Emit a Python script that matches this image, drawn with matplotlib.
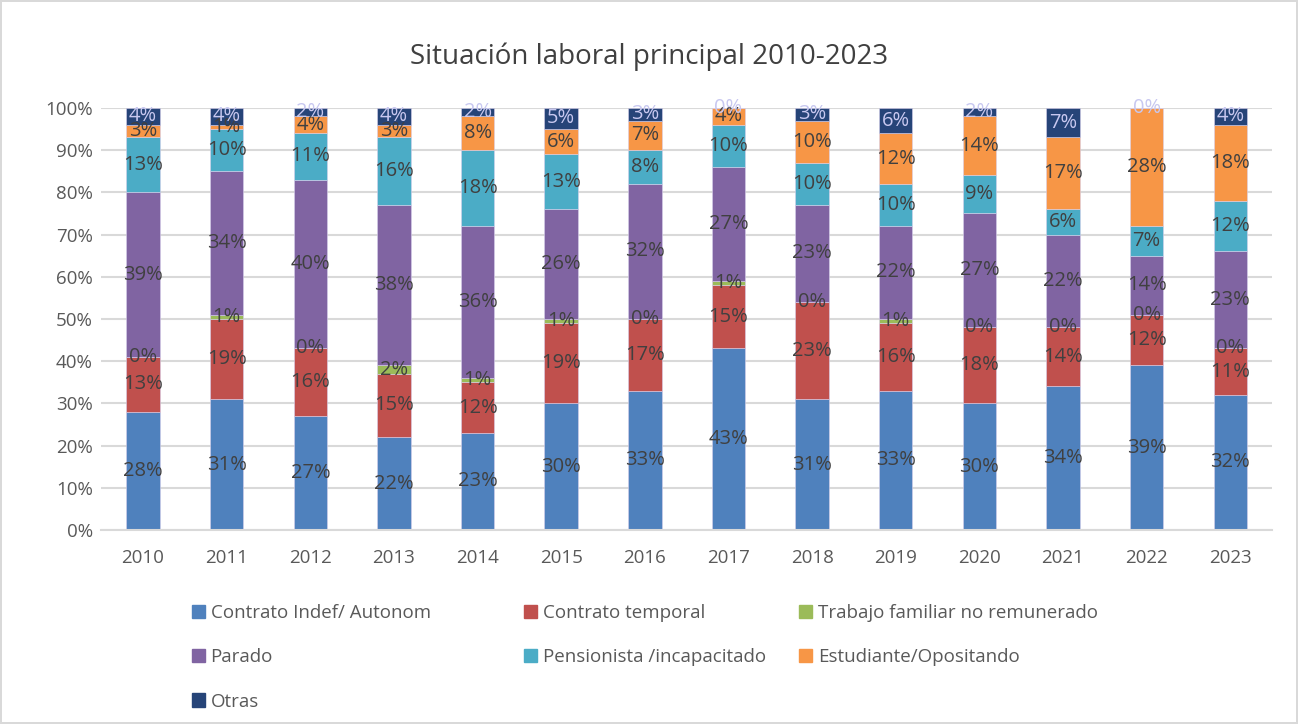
import numpy as np
import matplotlib
matplotlib.use('Agg')
import matplotlib.pyplot as plt
import matplotlib.patches as mpatches

plt.rcParams.update({'font.family': ['Open Sans', 'DejaVu Sans']})

years = ['2010', '2011', '2012', '2013', '2014', '2015', '2016',
         '2017', '2018', '2019', '2020', '2021', '2022', '2023']

series_names = ['Contrato Indef/ Autonom', 'Contrato temporal',
                'Trabajo familiar no remunerado', 'Parado',
                'Pensionista /incapacitado', 'Estudiante/Opositando', 'Otras']

indef      = [28, 31, 27, 22, 23, 30, 33, 43, 31, 33, 30, 34, 39, 32]
temporal   = [13, 19, 16, 15, 12, 19, 17, 15, 23, 16, 18, 14, 12, 11]
familiar   = [0, 1, 0, 2, 1, 1, 0, 1, 0, 1, 0, 0, 0, 0]
parado     = [39, 34, 40, 38, 36, 26, 32, 27, 23, 22, 27, 22, 14, 23]
pension    = [13, 10, 11, 16, 18, 13, 8, 10, 10, 10, 9, 6, 7, 12]
estudiante = [3, 1, 4, 3, 8, 6, 7, 4, 10, 12, 14, 17, 28, 18]
otras      = [4, 4, 2, 4, 2, 5, 3, 0, 3, 6, 2, 7, 0, 4]

data = [indef, temporal, familiar, parado, pension, estudiante, otras]
colors = ['#4f81bd', '#c0504d', '#9bbb59', '#8064a2', '#4bacc6', '#f79646', '#264478']
label_colors = ['#404040'] * 6 + ['#c8c8f0']

fig = plt.figure(figsize=(12.98, 7.24), dpi=100)
fig.patch.set_edgecolor('#d9d9d9')
fig.patch.set_linewidth(1.5)
ax = fig.add_axes([0.078, 0.268, 0.902, 0.583])

x = np.arange(len(years))
bottom = np.zeros(len(years))
for vals, col, lcol in zip(data, colors, label_colors):
    vals = np.array(vals, dtype=float)
    ax.bar(x, vals, bottom=bottom, width=0.4, color=col, edgecolor='#d8d0ec',
           linewidth=0.4, zorder=2)
    for xi, b, v in zip(x, bottom, vals):
        ax.text(xi, b + v / 2, f'{int(v)}%', ha='center', va='center',
                fontsize=14.5, color=lcol, zorder=3)
    bottom += vals

ax.set_xlim(-0.5, len(years) - 0.5)
ax.set_ylim(0, 100)
ax.set_yticks(np.arange(0, 101, 10))
ax.set_yticklabels([f'{v}%' for v in range(0, 101, 10)])
ax.set_xticks(x)
ax.set_xticklabels(years)
ax.tick_params(axis='both', length=0, labelsize=13.5, colors='#595959')
ax.tick_params(axis='x', pad=14)
ax.tick_params(axis='y', pad=6)
ax.yaxis.grid(True, color='#d9d9d9', linewidth=1.5, zorder=0)
ax.set_axisbelow(True)
for s in ['top', 'right', 'left']:
    ax.spines[s].set_visible(False)
ax.spines['bottom'].set_color('#d9d9d9')
ax.spines['bottom'].set_linewidth(1.5)

fig.text(0.5, 0.922, 'Situación laboral principal 2010-2023', ha='center', va='center',
         fontsize=20, color='#404040')

handles = [mpatches.Patch(color=c, label=n) for c, n in zip(colors, series_names)]
columns = [[0, 3, 6], [1, 4], [2, 5]]
col_x = [0.142, 0.398, 0.610]
for idx, cx in zip(columns, col_x):
    fig.legend([handles[i] for i in idx], [series_names[i] for i in idx],
               ncol=1, loc='upper left', bbox_to_anchor=(cx, 0.176), frameon=False,
               fontsize=13.5, labelcolor='#595959', handlelength=0.7, handleheight=0.7,
               handletextpad=0.3, labelspacing=1.4, borderaxespad=0)

plt.savefig('out.png', dpi=100)
plt.close()
